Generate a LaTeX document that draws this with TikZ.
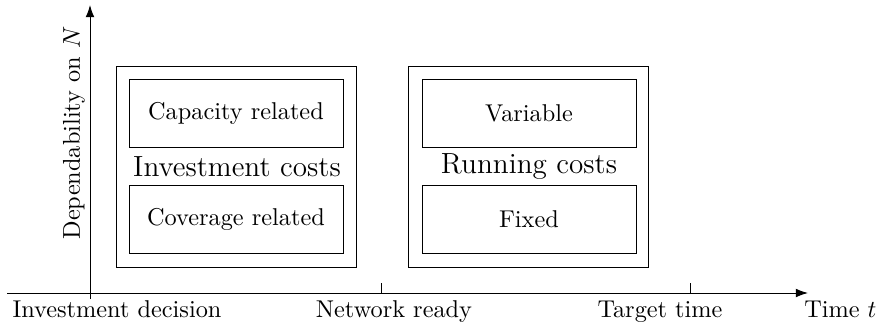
\documentclass[tikz,border=0pt]{standalone}
\usetikzlibrary{arrows.meta}
\begin{document}
\begin{tikzpicture}[x=0.4114pt,y=-0.4114pt,
  outerbox/.style={draw,rectangle,inner sep=0pt,minimum width=240*0.4114pt,minimum height=201*0.4114pt},
  innerbox/.style={draw,rectangle,inner sep=0pt,minimum width=214*0.4114pt,minimum height=68*0.4114pt,font=\normalsize},
  title/.style={inner sep=0pt,font=\large},
  lbl/.style={inner sep=0pt,font=\normalsize},
  axis/.style={-{Latex[length=5pt,width=3.6pt]}}]
\useasboundingbox (0,0) rectangle (880,326);
% boxes
\node[outerbox] (invout) at (236,166.5) {};
\node[innerbox] (cap) at (236,113) {Capacity related};
\node[innerbox] (cov) at (236,219.5) {Coverage related};
\node[title] (inv) at (237,167) {Investment costs};
\node[outerbox] (runout) at (528.5,166.5) {};
\node[innerbox] (var) at (529,113) {Variable};
\node[innerbox] (fix) at (529,219.5) {Fixed};
\node[title] (run) at (529,167) {Running costs};
% axes
\coordinate (xs) at (7,293);
\coordinate (xe) at (808,293);
\coordinate (ys) at (90,299);
\coordinate (ye) at (90,5);
\draw[axis] (xs) -- (xe);
\draw[axis] (ys) -- (ye);
\coordinate (t1a) at (381,283); \coordinate (t1b) at (381,293);
\coordinate (t2a) at (690,283); \coordinate (t2b) at (690,293);
\draw (t1a) -- (t1b);
\draw (t2a) -- (t2b);
% labels
\node[lbl,anchor=base] (l1) at (117,317) {Investment decision};
\node[lbl,anchor=base] (l2) at (394,317) {Network ready};
\node[lbl,anchor=base] (l3) at (660,317) {Target time};
\node[lbl,anchor=base east] (l4) at (877,317) {Time $t$};
\node[lbl,rotate=90] (dep) at (74,133) {Dependability on $N$};
\end{tikzpicture}
\end{document}
